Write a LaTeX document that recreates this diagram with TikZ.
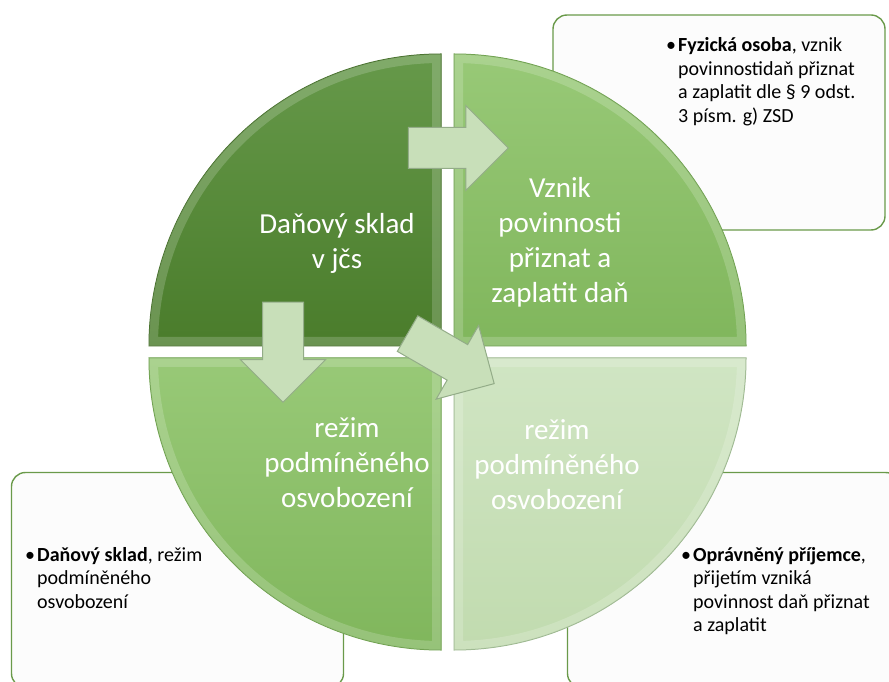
\documentclass[tikz,border=0pt]{standalone}
\usepackage{fontspec}
\setmainfont{Carlito}
\usetikzlibrary{positioning,shapes.arrows}
\definecolor{tlTop}{HTML}{66994A}
\definecolor{tlBot}{HTML}{4A7C2B}
\definecolor{tlEdge}{HTML}{3E6A22}
\definecolor{trTop}{HTML}{98C977}
\definecolor{trBot}{HTML}{80B65C}
\definecolor{trEdge}{HTML}{679C45}
\definecolor{brTop}{HTML}{D0E5C3}
\definecolor{brBot}{HTML}{C1DBAF}
\definecolor{brEdge}{HTML}{98B58A}
\definecolor{boxEdge}{HTML}{6A9A4A}
\definecolor{arrFill}{HTML}{C8DFB9}
\definecolor{arrEdge}{HTML}{93AC88}
\tikzset{
  quad dark/.style={top color=tlTop, bottom color=tlBot, draw=tlEdge},
  quad mid/.style={top color=trTop, bottom color=trBot, draw=trEdge},
  quad light/.style={top color=brTop, bottom color=brBot, draw=brEdge},
  info box/.style={
    draw=boxEdge,
    line width=1.4pt,
    rounded corners=14pt,
    fill=white!99!black,
    minimum width=332pt,
    minimum height=215pt
  },
  step arrow/.style={
    single arrow,
    draw=arrEdge,
    fill=arrFill,
    line width=1pt,
    minimum height=100pt,
    inner xsep=0pt,
    inner ysep=20pt,
    single arrow head extend=22pt,
    single arrow tip angle=90
  },
  quad text/.style={text=white, align=center, font=\fontsize{29}{35}\selectfont},
  box text/.style={anchor=base west, inner sep=0pt, font=\fontsize{20}{23.5}\selectfont}
}
\begin{document}
\begin{tikzpicture}[x=1pt,y=1pt]
\useasboundingbox (0,0) rectangle (889,681);
% Text boxes behind the circle
\node[info box] (boxTR) at (719,558.5) {};
\node[info box] (boxBL) at (177.5,101) {};
\node[info box] (boxBR) at (733.5,101) {};
% Four quadrants
\foreach \a/\cx/\cy/\st in {180/441/335/quad dark, 90/454/335/quad mid,
                            270/441/323/quad mid, 0/454/323/quad light}{
  \path[\st, line width=1pt] (\cx,\cy) -- ++(\a:292)
    arc[start angle=\a, end angle=\a-90, radius=292] -- cycle;
  \begin{scope}
    \clip (\cx,\cy) -- ++(\a:292) arc[start angle=\a, end angle=\a-90, radius=292] -- cycle;
    \draw[white, opacity=0.18, line width=18pt] (\cx,\cy) -- ++(\a:292)
      arc[start angle=\a, end angle=\a-90, radius=292] -- cycle;
  \end{scope}
}
% Arrows
\node[step arrow] (arrR) at (448,533) {};
\node[step arrow, rotate=-90] (arrD) at (283,339) {};
\node[step arrow, rotate=-30] (arrX) at (442,327.5) {};
% Quadrant labels
\node[quad text] (qTL) at (337,438) {Daňový sklad\\v jčs};
\node[quad text] (qTR) at (560,439) {Vznik\\povinnosti\\přiznat a\\zaplatit daň};
\node[quad text] (qBL) at (347,218) {režim\\podmíněného\\osvobození};
\node[quad text] (qBR) at (557,216.5) {režim\\podmíněného\\osvobození};
% Box texts
\node[box text] (tTR) at (666,629) {\begin{tabular}[t]{@{}l@{}l@{}}
  \makebox[12pt][l]{•} & \textbf{Fyzická osoba}, vznik\\
  & povinnostidaň přiznat\\
  & a zaplatit dle § 9 odst.\\
  & 3 písm. g) ZSD
\end{tabular}};
\node[box text] (tBL) at (25,120) {\begin{tabular}[t]{@{}l@{}l@{}}
  \makebox[12pt][l]{•} & \textbf{Daňový sklad}, režim\\
  & podmíněného\\
  & osvobození
\end{tabular}};
\node[box text] (tBR) at (681,120) {\begin{tabular}[t]{@{}l@{}l@{}}
  \makebox[12pt][l]{•} & \textbf{Oprávněný příjemce},\\
  & přijetím vzniká\\
  & povinnost daň přiznat\\
  & a zaplatit
\end{tabular}};
\end{tikzpicture}
\end{document}
